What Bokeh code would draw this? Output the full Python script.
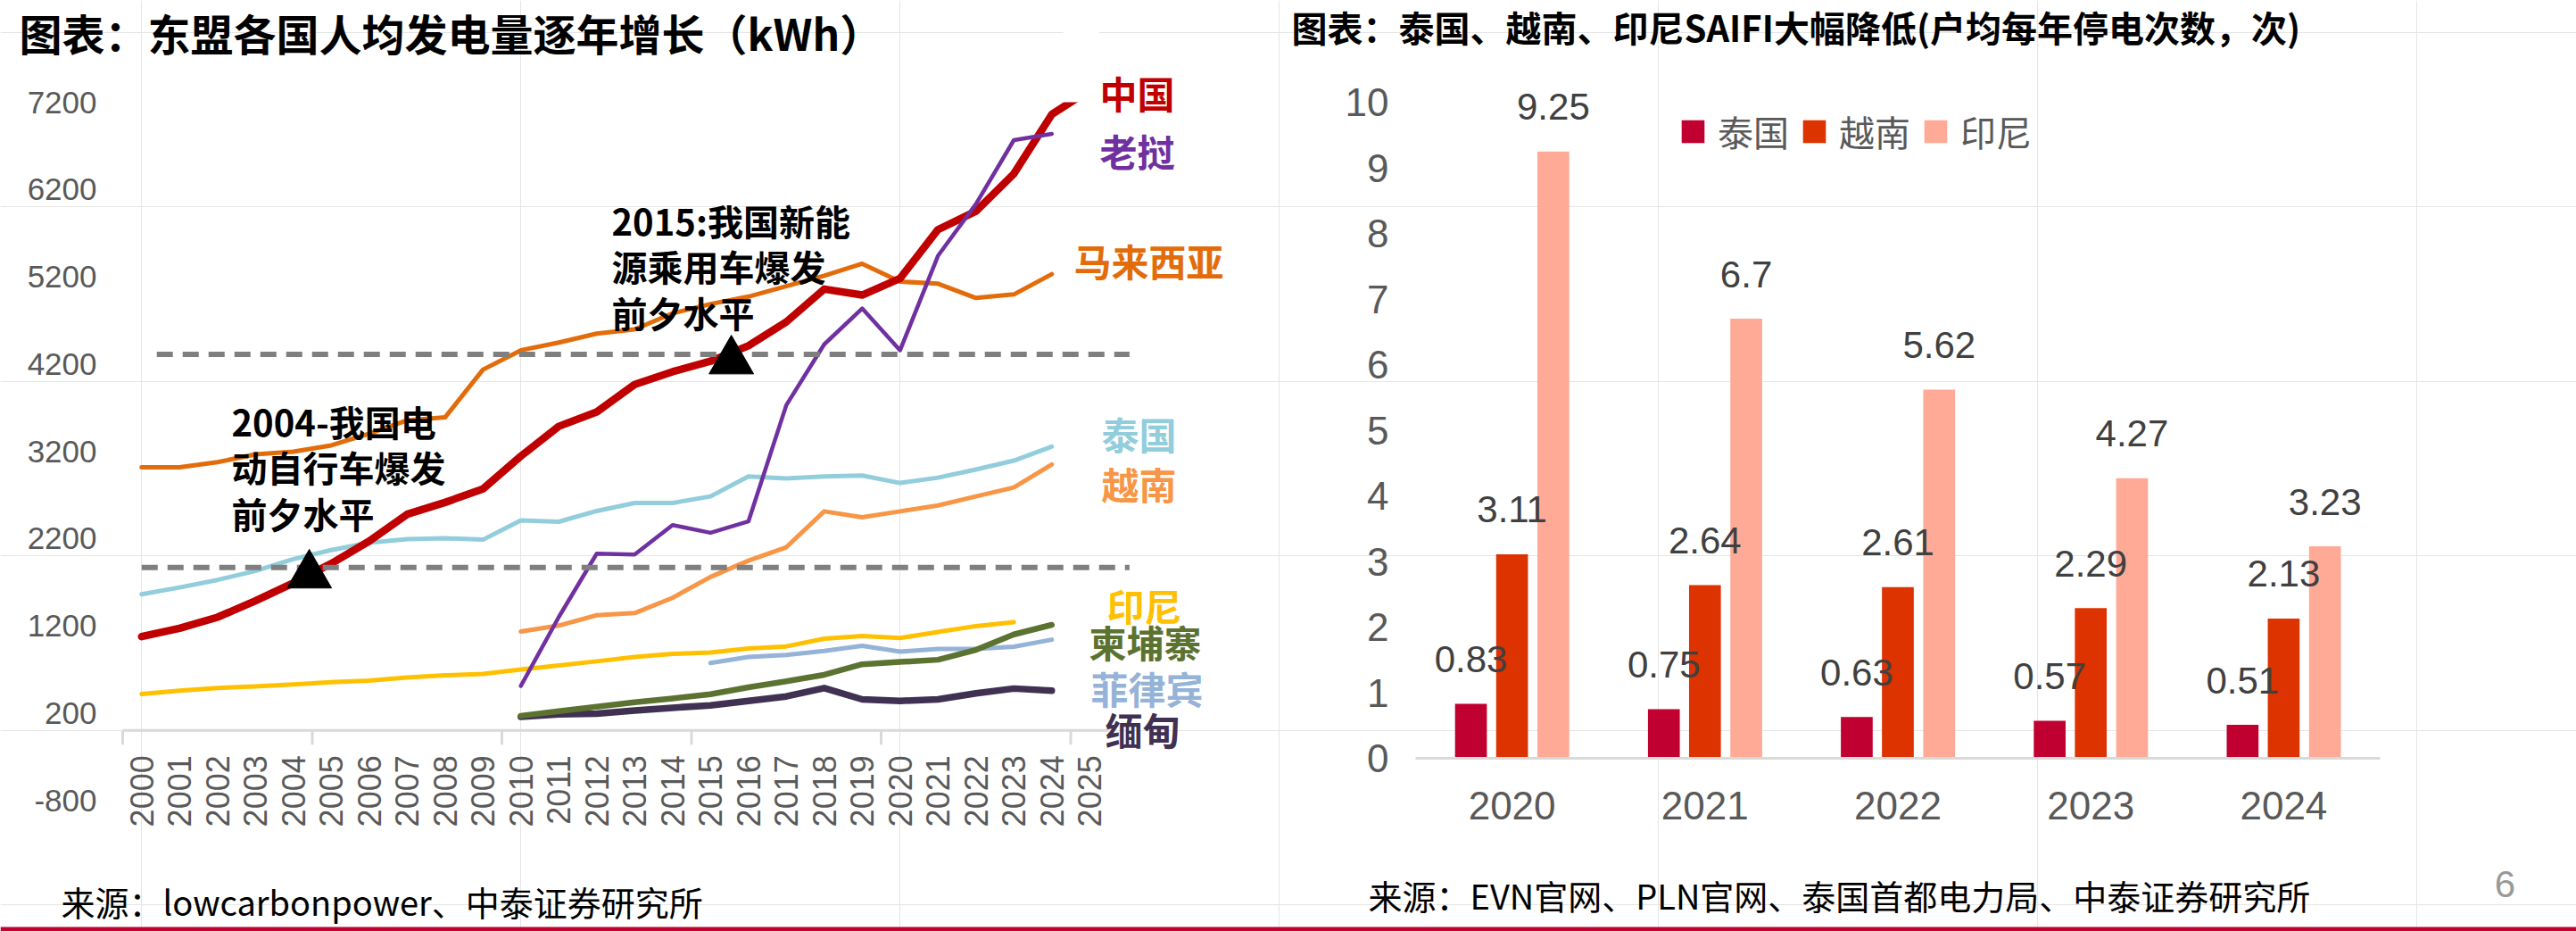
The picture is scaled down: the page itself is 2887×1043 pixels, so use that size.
import math
from bokeh.plotting import figure
from bokeh.models import Label, Legend, LegendItem, Range1d
from bokeh.core.properties import value
from bokeh.embed import file_html
from bokeh.resources import INLINE

CJK = "Noto Sans CJK SC"
NUM = "Liberation Sans"
AXIS_GREY = "#595959"
RULE_GREY = "#D9D9D9"

# ---------------- per-capita electricity generation, kWh ----------------
years = list(range(2000, 2026))
years_2010 = years[10:25]
years_2015 = years[15:25]

china = [1075, 1170, 1297, 1485, 1690, 1913, 2169, 2477, 2613, 2767, 3144, 3485, 3650,
         3964, 4111, 4231, 4408, 4682, 5058, 4990, 5180, 5740, 5950, 6380, 7060, 7340]
laos = [510, 1300, 2026, 2015, 2354, 2265, 2395, 3728, 4425, 4836, 4357, 5440, 6033, 6765, 6836]
malaysia = [3015, 3015, 3075, 3164, 3195, 3267, 3400, 3554, 3588, 4135, 4357, 4446, 4548,
            4597, 4780, 4887, 4972, 5092, 5212, 5349, 5144, 5120, 4956, 4997, 5229]
thailand = [1561, 1639, 1725, 1828, 1964, 2067, 2152, 2193, 2203, 2186, 2408, 2392, 2515,
            2607, 2607, 2682, 2911, 2887, 2911, 2921, 2836, 2897, 2990, 3092, 3253]
vietnam = [1133, 1202, 1320, 1345, 1520, 1759, 1946, 2100, 2511, 2443, 2511, 2579, 2682, 2785, 3048]
indonesia = [418, 456, 487, 504, 528, 552, 572, 607, 631, 648, 699, 744, 792, 843, 877, 894,
             939, 963, 1052, 1083, 1059, 1128, 1196, 1240]
cambodia = [168, 220, 271, 322, 367, 415, 494, 563, 638, 758, 785, 810, 923, 1100, 1210]
philippines = [773, 842, 866, 911, 969, 903, 934, 934, 960, 1040]
myanmar = [157, 185, 192, 229, 260, 287, 339, 390, 486, 356, 339, 356, 425, 480, 455]

# China's level on the eve of the e-bike (2004) and NEV (2015) booms
milestone_text = ["2004-我国电\n动自行车爆发\n前夕水平", "2015:我国新能\n源乘用车爆发\n前夕水平"]
milestone_x = [2004.42, 2015.55]
milestone_y = [1780, 4234]
milestone_level = [1868, 4309]
milestone_line_start = [2000.0, 2000.4]
milestone_line_end = 2026.05

y_ticks_left = list(range(-800, 7201, 1000))
y_top_left = 7200

# ---------------- SAIFI (interruptions per customer per year) ----------------
saifi_years = ["2020", "2021", "2022", "2023", "2024"]
saifi_thailand = [0.83, 0.75, 0.63, 0.57, 0.51]
saifi_vietnam = [3.11, 2.64, 2.61, 2.29, 2.13]
saifi_indonesia = [9.25, 6.7, 5.62, 4.27, 3.23]
saifi_names = ["泰国", "越南", "印尼"]
y_ticks_right = list(range(0, 11))

# ---------------- page geometry (pixels) ----------------
W, H = 2887, 1043
# left panel: plot box 137..1242 (x) for 1999.5..2025.5, 114..896 (y) for 7200..-800
LPX0, LPX1, LX0, LX1 = 137, 1242, 1999.5, 2025.5
LPY0, LPY1, LY0, LY1 = 114, 896, 7200, -800
# right panel: plot box 1586..2667 for 5 categories, 849 is 0 and 73.5 px per unit
RPX0, RPX1, NCAT = 1586, 2667, len(saifi_years)
RPY0, RUNIT = 849, 73.5


def X(px):
    return LX0 + (px - LPX0) * (LX1 - LX0) / (LPX1 - LPX0)


def Y(py):
    return LY0 + (py - LPY0) * (LY1 - LY0) / (LPY1 - LPY0)


def SX(px):
    return (px - RPX0) * NCAT / (RPX1 - RPX0)


def SY(py):
    return (RPY0 - py) / RUNIT


p = figure(width=W, height=H, x_range=Range1d(X(0), X(W)), y_range=Range1d(Y(H), Y(0)),
           x_axis_location=None, y_axis_location=None, min_border=0,
           output_backend="svg", toolbar_location=None)
p.extra_x_ranges = {"sx": Range1d(SX(0), SX(W))}
p.extra_y_ranges = {"sy": Range1d(SY(H), SY(0))}
p.outline_line_color = None
p.background_fill_color = "white"
p.border_fill_color = "white"

# ======================= left chart =======================
unit_per_px = (LY0 - LY1) / (LPY1 - LPY0)

# y tick labels
p.text(x=X(108), y=y_ticks_left, text=[str(t) for t in y_ticks_left],
       text_font=value(NUM), text_font_size="35px", text_color=AXIS_GREY,
       text_align="right", text_baseline="middle")

# category axis along zero, with a tick every five years
p.segment(x0=years[0] - 0.5, y0=0, x1=years[-1] + 0.5, y1=0, line_color=RULE_GREY, line_width=3)
bounds = [y - 0.5 for y in years[::5]]
p.segment(x0=bounds, y0=0, x1=bounds, y1=-16 * unit_per_px, line_color=RULE_GREY, line_width=3)
p.text(x=years, y=0, text=[str(y) for y in years], angle=math.pi / 2, y_offset=28,
       text_font=value(NUM), text_font_size="36px", text_color=AXIS_GREY,
       text_align="right", text_baseline="middle")

series = [
    ("泰国", years[:25], thailand, "#92CDDC", 5, 1234, 485),
    ("马来西亚", years[:25], malaysia, "#E36C0A", 5, 1203, 291),
    ("越南", years_2010, vietnam, "#F79646", 5, 1234, 541),
    ("印尼", years[:24], indonesia, "#FFC000", 5, 1240, 677),
    ("菲律宾", years_2015, philippines, "#95B3D7", 5, 1222, 770),
    ("缅甸", years_2010, myanmar, "#403152", 7.5, 1238, 816),
    ("柬埔寨", years_2010, cambodia, "#5B7230", 6.5, 1220, 718),
    ("中国", years, china, "#C00000", 8.5, 1232, 103),
    ("老挝", years_2010, laos, "#7030A0", 4.5, 1232, 168),
]
for name, xs, ys, color, lw, lab_px, lab_py in series:
    p.line(xs, ys, line_color=color, line_width=lw, line_cap="round", line_join="round")

# the value axis stops at 7200: blank out anything drawn above it next to the last year
p.quad(left=years[-2] + 0.3, right=years[-1] + 0.25, bottom=y_top_left, top=Y(0),
       fill_color="white", line_color=None)

for lvl, x0 in zip(milestone_level, milestone_line_start):
    p.line([x0, milestone_line_end], [lvl, lvl], line_color="#7F7F7F", line_width=6,
           line_dash="18 11")

p.scatter(milestone_x, milestone_y, marker="triangle", size=50, fill_color="black",
          line_color="black")

for name, xs, ys, color, lw, lab_px, lab_py in series:
    p.add_layout(Label(x=X(lab_px), y=Y(lab_py), text=name, text_color=color,
                       text_font=CJK, text_font_style="bold", text_font_size="42px",
                       text_align="left", text_baseline="middle"))

for txt, (px, py) in zip(milestone_text, [(259, 523), (685, 298)]):
    p.add_layout(Label(x=X(px), y=Y(py), text=txt, text_color="black",
                       text_font=CJK, text_font_style="bold", text_font_size="40px",
                       text_line_height=0.88, text_align="left", text_baseline="middle"))

p.add_layout(Label(x=X(21), y=Y(0), text="图表：东盟各国人均发电量逐年增长（kWh）",
                   text_color="black", text_font=CJK, text_font_style="bold",
                   text_font_size="48px", text_align="left", text_baseline="top"))
p.add_layout(Label(x=X(68), y=Y(1009), text="来源：lowcarbonpower、中泰证券研究所",
                   text_color="black", text_font=CJK, text_font_size="38px",
                   text_align="left", text_baseline="middle"))

# ======================= right chart =======================
cat_x = [i + 0.5 for i in range(NCAT)]
bar_w = 0.165
offsets = [-0.213, 0.0, 0.214]
groups = [saifi_thailand, saifi_vietnam, saifi_indonesia]
bar_colors = ["#C00030", "#DC3300", "#FFAA96"]

p.text(x=SX(1556), y=y_ticks_right, text=[str(t) for t in y_ticks_right],
       x_range_name="sx", y_range_name="sy",
       text_font=value(NUM), text_font_size="44px", text_color=AXIS_GREY,
       text_align="right", text_baseline="middle")

bars = []
for off, vals, colr in zip(offsets, groups, bar_colors):
    bars.append(p.vbar(x=[c + off for c in cat_x], top=vals, bottom=0, width=bar_w,
                       x_range_name="sx", y_range_name="sy",
                       fill_color=colr, line_color=None))

p.segment(x0=0, y0=0, x1=NCAT, y1=0, x_range_name="sx", y_range_name="sy",
          line_color=RULE_GREY, line_width=3)
p.text(x=cat_x, y=0, text=saifi_years, y_offset=53, x_range_name="sx", y_range_name="sy",
       text_font=value(NUM), text_font_size="44px", text_color=AXIS_GREY,
       text_align="center", text_baseline="middle")

for off, vals in zip(offsets, groups):
    p.text(x=[c + off for c in cat_x], y=vals, text=[f"{v:g}" for v in vals], y_offset=-50,
           x_range_name="sx", y_range_name="sy",
           text_font=value(NUM), text_font_size="42px", text_color="#404040",
           text_align="center", text_baseline="middle")

legend = Legend(items=[LegendItem(label=n, renderers=[r]) for n, r in zip(saifi_names, bars)],
                orientation="horizontal", location=(1881, 867), padding=0, margin=0,
                spacing=12, label_standoff=12, glyph_width=32, glyph_height=32,
                label_text_font=CJK, label_text_font_size="40px", label_text_color=AXIS_GREY,
                border_line_color=None, background_fill_alpha=0)
p.add_layout(legend)

p.add_layout(Label(x=X(1447), y=Y(0),
                   text="图表：泰国、越南、印尼SAIFI大幅降低(户均每年停电次数，次)",
                   text_color="black", text_font=CJK, text_font_style="bold",
                   text_font_size="40px", text_align="left", text_baseline="top"))
p.add_layout(Label(x=X(1533), y=Y(1002),
                   text="来源：EVN官网、PLN官网、泰国首都电力局、中泰证券研究所",
                   text_color="black", text_font=CJK, text_font_size="38px",
                   text_align="left", text_baseline="middle"))
p.add_layout(Label(x=X(2807), y=Y(990), text="6", text_color="#999999",
                   text_font=NUM, text_font_size="42px",
                   text_align="center", text_baseline="middle"))

# footer rule across the page
p.quad(left=X(0), right=X(W), bottom=Y(H), top=Y(1038), fill_color="#C0002F", line_color=None)

open("out.html", "w").write(file_html(p, INLINE))
